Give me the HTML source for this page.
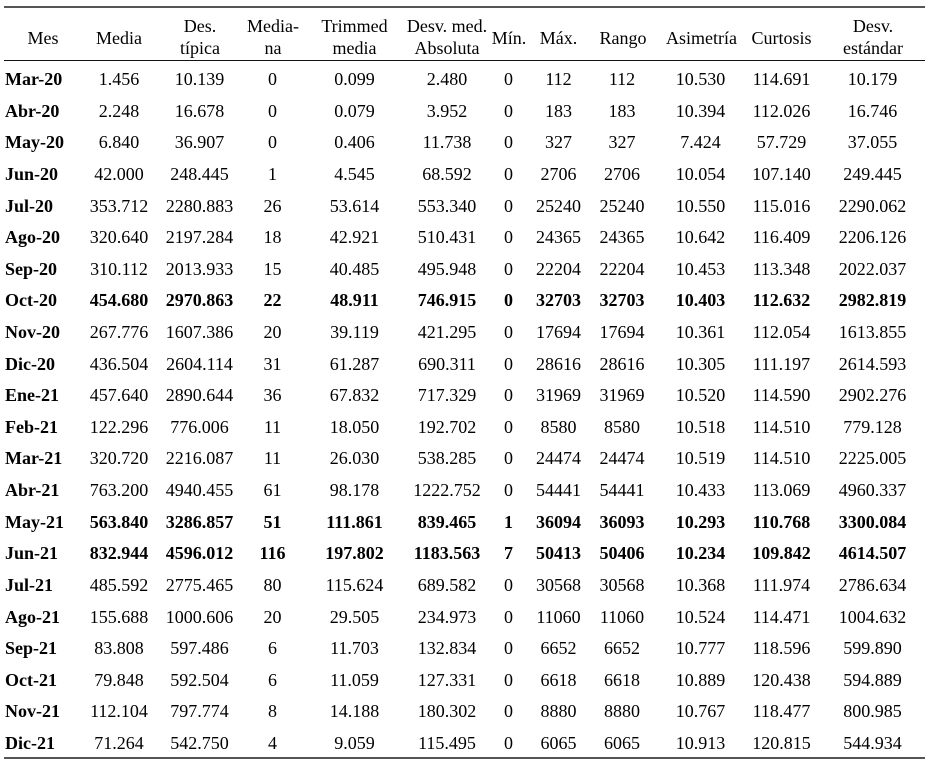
<!DOCTYPE html>
<html><head><meta charset="utf-8">
<style>
html,body{margin:0;padding:0;background:#fff;}
body{width:928px;height:760px;position:relative;overflow:hidden;font-family:"Liberation Serif",serif;color:#000;font-size:18px;}
.rule{position:absolute;left:4px;width:921px;}
.r{position:absolute;left:0;width:928px;height:32px;line-height:32px;}
.r span{position:absolute;top:0;width:120px;margin-left:-60px;text-align:center;white-space:nowrap;}
.r span:nth-child(1){left:5px;margin-left:0;text-align:left;font-weight:bold;}
.r span:nth-child(2){left:119px;}
.r span:nth-child(3){left:199.5px;}
.r span:nth-child(4){left:272.5px;}
.r span:nth-child(5){left:354.5px;}
.r span:nth-child(6){left:447px;}
.r span:nth-child(7){left:508.5px;}
.r span:nth-child(8){left:558.5px;}
.r span:nth-child(9){left:622px;}
.r span:nth-child(10){left:700.5px;}
.r span:nth-child(11){left:781.5px;}
.r span:nth-child(12){left:872.5px;}
.b span{font-weight:bold;}
.h{position:absolute;text-align:center;width:140px;margin-left:-70px;line-height:22px;white-space:nowrap;}
</style></head><body>
<div class="rule" style="top:6px;height:2px;background:#555;"></div>
<div class="rule" style="top:60px;height:1px;background:#111;"></div>
<div class="rule" style="top:757px;height:2px;background:#555;"></div>

<div class="h" style="left:43px;top:26.5px;">Mes</div>
<div class="h" style="left:119px;top:26.5px;">Media</div>
<div class="h" style="left:200px;top:15px;">Des.<br>típica</div>
<div class="h" style="left:273px;top:15px;">Media-<br>na</div>
<div class="h" style="left:354.5px;top:15px;">Trimmed<br>media</div>
<div class="h" style="left:447px;top:15px;">Desv. med.<br>Absoluta</div>
<div class="h" style="left:509px;top:26.5px;">Mín.</div>
<div class="h" style="left:558.5px;top:26.5px;">Máx.</div>
<div class="h" style="left:623px;top:26.5px;">Rango</div>
<div class="h" style="left:701.5px;top:26.5px;">Asimetría</div>
<div class="h" style="left:781.5px;top:26.5px;">Curtosis</div>
<div class="h" style="left:873px;top:15px;">Desv.<br>estándar</div>

<div class="r" style="top:63px"><span>Mar-20</span><span>1.456</span><span>10.139</span><span>0</span><span>0.099</span><span>2.480</span><span>0</span><span>112</span><span>112</span><span>10.530</span><span>114.691</span><span>10.179</span></div>
<div class="r" style="top:94.6px"><span>Abr-20</span><span>2.248</span><span>16.678</span><span>0</span><span>0.079</span><span>3.952</span><span>0</span><span>183</span><span>183</span><span>10.394</span><span>112.026</span><span>16.746</span></div>
<div class="r" style="top:126.2px"><span>May-20</span><span>6.840</span><span>36.907</span><span>0</span><span>0.406</span><span>11.738</span><span>0</span><span>327</span><span>327</span><span>7.424</span><span>57.729</span><span>37.055</span></div>
<div class="r" style="top:157.9px"><span>Jun-20</span><span>42.000</span><span>248.445</span><span>1</span><span>4.545</span><span>68.592</span><span>0</span><span>2706</span><span>2706</span><span>10.054</span><span>107.140</span><span>249.445</span></div>
<div class="r" style="top:189.5px"><span>Jul-20</span><span>353.712</span><span>2280.883</span><span>26</span><span>53.614</span><span>553.340</span><span>0</span><span>25240</span><span>25240</span><span>10.550</span><span>115.016</span><span>2290.062</span></div>
<div class="r" style="top:221.1px"><span>Ago-20</span><span>320.640</span><span>2197.284</span><span>18</span><span>42.921</span><span>510.431</span><span>0</span><span>24365</span><span>24365</span><span>10.642</span><span>116.409</span><span>2206.126</span></div>
<div class="r" style="top:252.7px"><span>Sep-20</span><span>310.112</span><span>2013.933</span><span>15</span><span>40.485</span><span>495.948</span><span>0</span><span>22204</span><span>22204</span><span>10.453</span><span>113.348</span><span>2022.037</span></div>
<div class="r b" style="top:284.3px"><span>Oct-20</span><span>454.680</span><span>2970.863</span><span>22</span><span>48.911</span><span>746.915</span><span>0</span><span>32703</span><span>32703</span><span>10.403</span><span>112.632</span><span>2982.819</span></div>
<div class="r" style="top:316px"><span>Nov-20</span><span>267.776</span><span>1607.386</span><span>20</span><span>39.119</span><span>421.295</span><span>0</span><span>17694</span><span>17694</span><span>10.361</span><span>112.054</span><span>1613.855</span></div>
<div class="r" style="top:347.6px"><span>Dic-20</span><span>436.504</span><span>2604.114</span><span>31</span><span>61.287</span><span>690.311</span><span>0</span><span>28616</span><span>28616</span><span>10.305</span><span>111.197</span><span>2614.593</span></div>
<div class="r" style="top:379.2px"><span>Ene-21</span><span>457.640</span><span>2890.644</span><span>36</span><span>67.832</span><span>717.329</span><span>0</span><span>31969</span><span>31969</span><span>10.520</span><span>114.590</span><span>2902.276</span></div>
<div class="r" style="top:410.8px"><span>Feb-21</span><span>122.296</span><span>776.006</span><span>11</span><span>18.050</span><span>192.702</span><span>0</span><span>8580</span><span>8580</span><span>10.518</span><span>114.510</span><span>779.128</span></div>
<div class="r" style="top:442.4px"><span>Mar-21</span><span>320.720</span><span>2216.087</span><span>11</span><span>26.030</span><span>538.285</span><span>0</span><span>24474</span><span>24474</span><span>10.519</span><span>114.510</span><span>2225.005</span></div>
<div class="r" style="top:474px"><span>Abr-21</span><span>763.200</span><span>4940.455</span><span>61</span><span>98.178</span><span>1222.752</span><span>0</span><span>54441</span><span>54441</span><span>10.433</span><span>113.069</span><span>4960.337</span></div>
<div class="r b" style="top:505.7px"><span>May-21</span><span>563.840</span><span>3286.857</span><span>51</span><span>111.861</span><span>839.465</span><span>1</span><span>36094</span><span>36093</span><span>10.293</span><span>110.768</span><span>3300.084</span></div>
<div class="r b" style="top:537.3px"><span>Jun-21</span><span>832.944</span><span>4596.012</span><span>116</span><span>197.802</span><span>1183.563</span><span>7</span><span>50413</span><span>50406</span><span>10.234</span><span>109.842</span><span>4614.507</span></div>
<div class="r" style="top:568.9px"><span>Jul-21</span><span>485.592</span><span>2775.465</span><span>80</span><span>115.624</span><span>689.582</span><span>0</span><span>30568</span><span>30568</span><span>10.368</span><span>111.974</span><span>2786.634</span></div>
<div class="r" style="top:600.5px"><span>Ago-21</span><span>155.688</span><span>1000.606</span><span>20</span><span>29.505</span><span>234.973</span><span>0</span><span>11060</span><span>11060</span><span>10.524</span><span>114.471</span><span>1004.632</span></div>
<div class="r" style="top:632.1px"><span>Sep-21</span><span>83.808</span><span>597.486</span><span>6</span><span>11.703</span><span>132.834</span><span>0</span><span>6652</span><span>6652</span><span>10.777</span><span>118.596</span><span>599.890</span></div>
<div class="r" style="top:663.8px"><span>Oct-21</span><span>79.848</span><span>592.504</span><span>6</span><span>11.059</span><span>127.331</span><span>0</span><span>6618</span><span>6618</span><span>10.889</span><span>120.438</span><span>594.889</span></div>
<div class="r" style="top:695.4px"><span>Nov-21</span><span>112.104</span><span>797.774</span><span>8</span><span>14.188</span><span>180.302</span><span>0</span><span>8880</span><span>8880</span><span>10.767</span><span>118.477</span><span>800.985</span></div>
<div class="r" style="top:727px"><span>Dic-21</span><span>71.264</span><span>542.750</span><span>4</span><span>9.059</span><span>115.495</span><span>0</span><span>6065</span><span>6065</span><span>10.913</span><span>120.815</span><span>544.934</span></div>
</body></html>
